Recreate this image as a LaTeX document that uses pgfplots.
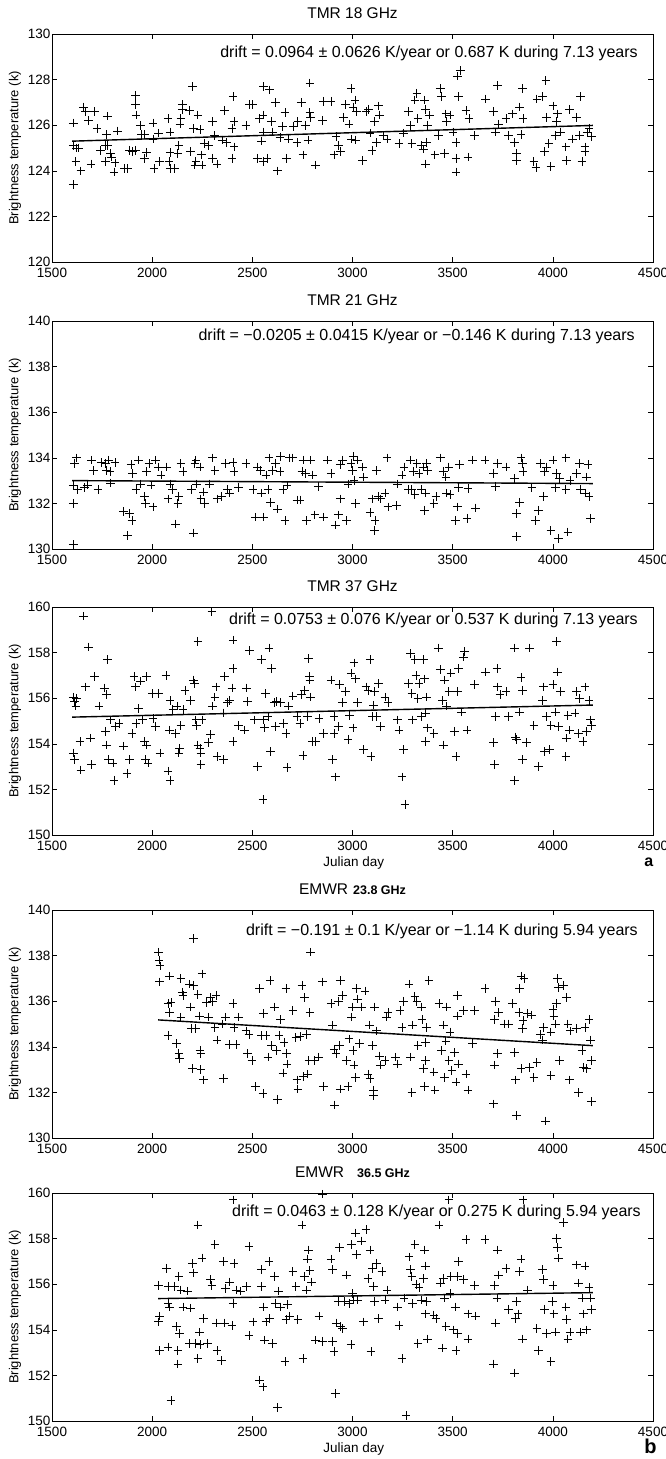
\documentclass[border=0pt]{standalone}
\usepackage{fontspec}
\setmainfont{Liberation Sans}
\usepackage{pgfplots}
\pgfplotsset{compat=1.18}
\pgfplotsset{
  panel/.style={
    scale only axis, width=601pt, height=228pt,
    xmin=1500, xmax=4500, xtick={1500,2000,...,4500},
    ytick distance=2,
    clip mode=individual,
    tick align=inside, xtick pos=both, ytick pos=both,
    major tick length=5pt,
    axis line style={line width=0.7pt},
    every tick/.style={black, line width=0.6pt},
    ticklabel style={font=\fontsize{13.5}{16}\selectfont},
    xticklabel style={inner sep=2pt, yshift=-4pt},
    yticklabel style={inner sep=1.5pt},
    /pgf/number format/assume math mode=true,
    /pgf/number format/1000 sep={},
    scaled ticks=false,
    every axis title shift=0pt,
    title style={font=\fontsize{15.5}{18}\selectfont, at={(axis description cs:0.5,1.092)}, anchor=center},
    ylabel={Brightness temperature (k)},
    ylabel style={font=\fontsize{13}{15}\selectfont, at={(axis description cs:-0.0616,0.5)}, anchor=center},
    xlabel style={font=\fontsize{13.5}{16}\selectfont, at={(axis description cs:0.502,-0.123)}, anchor=center},
  },
  pts/.style={only marks, mark=+, mark size=4.3pt, mark options={black, line width=0.75pt}},
  trend/.style={black, line width=1.4pt, no marks},
}
\tikzset{drift/.style={anchor=east, font=\fontsize{16}{18}\selectfont, inner sep=0pt}}
\begin{document}
\begin{tikzpicture}
\path[use as bounding box] (0,0) rectangle (666pt,-1459pt);

% ---------------- TMR 18 GHz
\begin{axis}[panel, at={(52pt,-262pt)}, anchor=south west, ymin=120, ymax=130,
  title={TMR 18 GHz}]
\addplot[pts] coordinates {(1606,123.4)(1606,126.1)(1606,125.1)(1623,125.0)(1634,125.0)(1619,124.4)(1644,124.0)(1657,126.8)(1666,126.6)(1683,126.2)(1695,124.3)(1712,126.6)(1725,125.85)(1742,124.9)(1768,125.1)(1768,124.4)(1776,126.4)(1776,125.1)(1772,125.6)(1793,124.75)(1797,124.6)(1810,123.95)(1814,124.35)(1827,125.75)(1861,124.1)(1878,124.1)(1888,124.9)(1903,124.85)(1916,127.3)(1916,124.9)(1918,126.9)(1920,126.45)(1942,126.0)(1946,125.6)(1963,124.55)(1963,125.6)(1973,124.8)(2005,125.4)(2005,126.1)(2010,124.1)(2033,125.65)(2037,124.4)(2080,126.3)(2084,124.4)(2090,124.1)(2090,124.8)(2090,125.7)(2111,124.1)(2133,125.1)(2128,124.75)(2139,126.05)(2150,126.9)(2150,126.7)(2143,126.3)(2186,126.65)(2192,124.85)(2201,127.7)(2207,125.85)(2213,124.25)(2218,124.4)(2228,126.45)(2239,125.8)(2245,124.7)(2249,124.25)(2260,125.2)(2281,125.1)(2302,126.15)(2302,124.55)(2311,125.55)(2324,124.3)(2349,125.35)(2362,126.65)(2370,125.25)(2398,125.85)(2398,124.55)(2404,127.25)(2409,125.05)(2409,126.15)(2468,126.0)(2485,126.9)(2500,126.9)(2525,124.55)(2536,126.3)(2545,125.3)(2557,127.7)(2557,125.7)(2557,124.4)(2553,126.45)(2574,124.55)(2587,127.55)(2595,126.15)(2600,125.7)(2617,127.0)(2625,124.0)(2638,125.45)(2651,125.95)(2663,126.55)(2672,124.55)(2680,125.4)(2706,125.95)(2723,125.25)(2727,126.15)(2744,127.0)(2753,124.7)(2765,126.0)(2778,125.35)(2787,127.85)(2787,126.55)(2791,126.35)(2816,124.25)(2850,126.2)(2854,127.05)(2893,127.05)(2908,124.7)(2918,125.5)(2929,125.1)(2939,124.85)(2956,126.35)(2965,126.9)(2982,126.05)(2993,127.6)(2995,125.4)(3003,126.8)(3012,127.1)(3016,125.35)(3020,126.6)(3050,124.45)(3067,126.6)(3080,126.7)(3088,125.65)(3097,124.9)(3109,126.15)(3120,125.25)(3130,126.85)(3135,126.45)(3152,125.55)(3173,125.4)(3232,125.2)(3254,125.65)(3279,126.6)(3290,126.0)(3296,125.2)(3311,127.1)(3321,127.4)(3326,126.3)(3343,125.1)(3353,124.95)(3360,127.1)(3364,126.7)(3364,124.3)(3368,125.25)(3375,126.0)(3385,126.45)(3411,124.7)(3428,125.55)(3438,127.6)(3445,127.25)(3460,124.75)(3466,126.5)(3470,126.15)(3487,126.45)(3502,125.7)(3517,125.25)(3517,123.95)(3517,124.55)(3523,128.15)(3530,127.25)(3538,128.4)(3566,126.65)(3576,124.6)(3581,126.3)(3608,125.55)(3665,127.15)(3704,126.6)(3714,125.7)(3725,127.75)(3729,126.05)(3767,126.3)(3778,125.55)(3799,126.5)(3810,125.25)(3820,124.75)(3820,124.45)(3835,126.8)(3842,125.6)(3848,127.6)(3852,126.3)(3905,124.4)(3916,124.15)(3920,127.15)(3948,127.25)(3958,124.85)(3965,127.95)(3969,126.35)(3980,125.2)(3990,124.2)(4001,126.85)(4012,125.55)(4018,126.15)(4022,126.5)(4039,125.7)(4065,125.05)(4069,124.45)(4082,126.7)(4097,125.4)(4118,126.35)(4133,125.55)(4139,127.25)(4145,124.4)(4160,125.05)(4160,124.85)(4171,125.7)(4181,125.85)(4192,125.5)};
\addplot[trend] coordinates {(1600,125.3)(4200,125.99)};
\node[drift] at (axis cs:4425,129.17) {drift = 0.0964 ± 0.0626 K/year or 0.687 K during 7.13 years};
\end{axis}

% ---------------- TMR 21 GHz
\begin{axis}[panel, at={(52pt,-549pt)}, anchor=south west, ymin=130, ymax=140,
  title={TMR 21 GHz}]
\addplot[pts] coordinates {(1606,130.2)(1606,132.0)(1606,132.8)(1612,133.75)(1623,134.0)(1627,132.6)(1661,132.7)(1676,132.8)(1697,133.9)(1708,133.45)(1729,132.6)(1746,133.8)(1768,133.75)(1772,133.45)(1782,133.9)(1789,133.4)(1793,132.9)(1814,133.8)(1857,131.65)(1878,130.6)(1888,131.55)(1899,131.25)(1895,133.7)(1903,133.3)(1920,132.6)(1931,133.9)(1942,132.85)(1963,132.3)(1967,132.0)(1973,133.4)(1984,133.75)(1995,132.8)(2005,131.85)(2016,133.9)(2031,133.6)(2044,133.25)(2073,133.6)(2080,132.2)(2090,132.85)(2101,132.6)(2116,131.1)(2128,132.0)(2133,132.3)(2143,133.75)(2154,133.4)(2196,132.6)(2207,130.7)(2213,133.75)(2218,133.9)(2222,132.85)(2239,133.6)(2243,132.2)(2256,132.5)(2260,132.0)(2285,132.85)(2302,134.0)(2313,133.45)(2324,132.2)(2345,132.3)(2366,133.75)(2377,132.6)(2387,132.45)(2404,133.8)(2409,133.4)(2430,132.7)(2468,133.75)(2504,132.6)(2515,131.4)(2525,133.6)(2540,133.45)(2547,132.45)(2557,131.4)(2568,133.25)(2578,132.6)(2583,134.0)(2591,132.05)(2600,133.45)(2617,133.75)(2625,131.75)(2638,133.4)(2642,134.05)(2653,132.6)(2663,131.25)(2674,132.8)(2685,134.0)(2702,134.0)(2723,132.15)(2738,132.15)(2748,133.4)(2753,133.9)(2765,133.3)(2770,131.25)(2791,133.9)(2801,133.25)(2812,131.5)(2829,132.75)(2854,131.4)(2876,133.9)(2893,133.3)(2914,131.05)(2929,131.5)(2939,132.2)(2939,133.7)(2950,133.9)(2971,131.25)(2978,132.85)(2993,133.75)(2999,133.45)(3003,134.05)(3007,133.0)(3014,132.0)(3024,133.9)(3050,133.6)(3056,133.15)(3088,131.6)(3099,132.2)(3109,130.8)(3113,131.25)(3120,133.45)(3130,132.3)(3141,132.2)(3162,132.45)(3173,134.0)(3177,131.85)(3220,131.9)(3226,132.85)(3247,133.25)(3258,133.6)(3279,132.6)(3290,133.9)(3296,132.6)(3305,133.4)(3311,132.4)(3321,133.75)(3332,133.3)(3343,132.6)(3353,133.6)(3360,131.7)(3364,132.45)(3368,133.75)(3375,133.45)(3406,132.0)(3417,132.3)(3438,134.0)(3453,133.4)(3466,133.15)(3470,132.45)(3481,133.6)(3487,132.4)(3513,131.25)(3523,131.85)(3530,132.7)(3534,133.7)(3572,131.35)(3576,132.65)(3598,133.9)(3615,131.8)(3661,133.9)(3704,133.3)(3714,132.75)(3725,133.75)(3767,133.6)(3810,133.1)(3820,131.55)(3820,130.55)(3835,132.05)(3842,134.0)(3848,133.75)(3852,133.4)(3895,132.7)(3912,131.25)(3927,131.7)(3937,133.75)(3954,132.3)(3958,133.4)(3969,133.6)(3990,130.8)(4001,133.9)(4012,132.7)(4018,133.3)(4027,130.45)(4033,133.1)(4065,134.0)(4065,132.6)(4075,130.75)(4086,133.0)(4118,133.3)(4133,133.75)(4139,132.6)(4160,132.45)(4167,133.15)(4175,133.7)(4181,132.3)(4188,131.35)};
\addplot[trend] coordinates {(1600,133.0)(4200,132.87)};
\node[drift] at (axis cs:4410,139.34) {drift = −0.0205 ± 0.0415 K/year or −0.146 K during 7.13 years};
\end{axis}

% ---------------- TMR 37 GHz
\begin{axis}[panel, at={(52pt,-835pt)}, anchor=south west, ymin=150, ymax=160,
  title={TMR 37 GHz}, xlabel={Julian day}]
\addplot[pts] coordinates {(1606,153.6)(1612,153.3)(1606,156.05)(1612,155.85)(1619,155.65)(1623,156.0)(1644,152.85)(1640,154.1)(1657,159.6)(1666,156.5)(1683,158.25)(1691,154.25)(1697,153.1)(1712,156.95)(1734,155.65)(1761,156.45)(1768,154.55)(1776,157.7)(1772,156.15)(1772,153.95)(1782,153.3)(1793,155.05)(1804,153.15)(1810,152.4)(1818,154.75)(1835,154.9)(1857,153.9)(1874,152.7)(1888,153.3)(1899,154.45)(1910,156.95)(1916,156.5)(1920,154.9)(1931,155.55)(1942,156.75)(1952,155.05)(1963,154.1)(1967,153.3)(1973,156.95)(1973,153.95)(1980,153.15)(2001,156.2)(2005,155.1)(2016,154.75)(2031,156.2)(2039,153.6)(2069,157.0)(2080,152.8)(2090,152.4)(2086,154.6)(2090,155.9)(2103,155.5)(2116,154.45)(2124,155.65)(2133,153.6)(2137,153.8)(2143,154.8)(2154,155.5)(2164,156.35)(2192,155.9)(2207,156.8)(2211,156.65)(2218,155.05)(2222,154.8)(2228,153.95)(2228,158.5)(2239,153.8)(2243,153.6)(2243,153.1)(2249,155.05)(2281,154.05)(2292,154.4)(2298,159.8)(2302,155.65)(2313,156.05)(2319,156.5)(2324,153.45)(2356,153.3)(2356,155.35)(2362,156.95)(2377,155.8)(2387,155.9)(2398,156.45)(2404,157.3)(2404,158.55)(2404,154.1)(2430,154.8)(2462,154.6)(2472,156.45)(2477,155.85)(2485,158.1)(2510,155.05)(2525,153.0)(2547,157.7)(2553,151.55)(2557,155.05)(2562,154.7)(2566,156.2)(2578,155.2)(2583,158.2)(2591,153.65)(2595,157.3)(2610,155.8)(2617,154.75)(2621,155.85)(2642,155.8)(2655,154.9)(2668,154.45)(2674,152.95)(2680,155.65)(2702,156.1)(2723,155.2)(2738,154.9)(2744,156.15)(2753,153.5)(2761,156.35)(2774,155.2)(2780,157.75)(2784,156.95)(2787,156.8)(2791,156.05)(2801,154.1)(2816,154.1)(2833,155.1)(2854,154.45)(2893,156.8)(2901,153.3)(2908,154.45)(2908,155.2)(2914,152.55)(2929,154.75)(2935,156.6)(2950,155.8)(2965,156.3)(2978,154.2)(2986,155.25)(2993,157.1)(3003,154.7)(3007,157.55)(3014,156.85)(3024,155.8)(3056,153.75)(3067,156.5)(3078,156.35)(3088,157.7)(3092,153.45)(3099,155.2)(3105,155.7)(3109,156.3)(3120,155.2)(3130,156.65)(3141,154.75)(3162,156.05)(3177,155.8)(3226,155.05)(3232,154.6)(3247,152.55)(3254,153.75)(3262,151.35)(3279,156.65)(3290,157.95)(3296,156.2)(3300,155.05)(3311,157.7)(3317,157.0)(3326,156.0)(3332,156.65)(3343,155.2)(3353,157.7)(3360,156.85)(3364,154.1)(3364,155.35)(3368,156.05)(3375,154.7)(3406,154.45)(3428,158.2)(3438,157.25)(3449,155.9)(3453,153.95)(3460,156.8)(3470,155.65)(3481,156.3)(3491,157.1)(3508,154.55)(3517,153.45)(3523,156.3)(3530,157.3)(3545,155.4)(3555,157.8)(3559,158.05)(3572,154.6)(3608,156.6)(3665,157.15)(3704,154.05)(3708,153.1)(3714,155.2)(3721,157.3)(3725,156.5)(3736,156.15)(3767,156.3)(3778,155.2)(3810,158.2)(3810,152.4)(3814,154.3)(3820,154.2)(3835,155.4)(3842,156.9)(3848,156.35)(3848,153.3)(3869,154.05)(3884,158.2)(3905,154.8)(3927,153.0)(3948,155.9)(3954,156.5)(3958,153.65)(3969,155.2)(3984,153.75)(3990,154.8)(4001,156.6)(4012,155.4)(4018,158.5)(4022,157.15)(4029,154.75)(4039,156.3)(4065,153.45)(4069,154.25)(4075,155.25)(4082,154.6)(4111,155.35)(4118,156.3)(4128,154.45)(4133,156.0)(4150,154.1)(4160,156.5)(4167,154.55)(4181,155.9)(4188,155.05)(4192,154.8)};
\addplot[trend] coordinates {(1600,155.17)(4200,155.7)};
\node[drift] at (axis cs:4425,159.43) {drift = 0.0753 ± 0.076 K/year or 0.537 K during 7.13 years};
\node[font=\fontsize{16}{18}\selectfont\bfseries] at (axis description cs:0.993,-0.118) {a};
\end{axis}

% ---------------- EMWR 23.8 GHz
\begin{axis}[panel, at={(52pt,-1138pt)}, anchor=south west, ymin=130, ymax=140,
  title={EMWR\hspace{5pt}{\bfseries\fontsize{12.5}{14}\selectfont 23.8 GHz}}]
\addplot[pts] coordinates {(2031,138.15)(2035,137.8)(2039,137.55)(2037,136.85)(2080,134.5)(2086,137.1)(2080,135.9)(2086,135.5)(2094,135.95)(2122,134.15)(2133,133.7)(2137,133.5)(2143,137.0)(2150,136.4)(2154,136.25)(2143,135.3)(2186,136.75)(2192,135.75)(2196,134.8)(2201,133.05)(2207,138.75)(2207,136.7)(2218,134.8)(2228,136.3)(2235,135.35)(2239,133.85)(2243,133.7)(2243,133.0)(2249,137.2)(2256,132.55)(2271,135.95)(2281,135.3)(2292,136.15)(2302,136.0)(2313,134.85)(2319,136.25)(2324,134.3)(2349,135.0)(2356,132.6)(2366,135.3)(2387,134.1)(2404,135.9)(2409,134.85)(2419,134.1)(2430,135.3)(2468,134.7)(2477,133.7)(2483,134.55)(2498,133.4)(2515,132.25)(2536,136.55)(2547,134.5)(2553,131.95)(2557,135.45)(2568,134.5)(2578,133.55)(2589,136.9)(2595,134.05)(2610,135.75)(2621,133.85)(2625,131.7)(2634,134.5)(2642,135.2)(2653,132.85)(2659,134.2)(2668,136.55)(2672,133.7)(2674,133.25)(2702,135.6)(2717,134.4)(2723,132.55)(2727,132.15)(2738,134.45)(2748,136.7)(2755,132.7)(2761,136.15)(2770,134.55)(2774,132.8)(2782,133.4)(2787,135.5)(2791,138.15)(2812,133.4)(2829,133.55)(2850,136.85)(2854,132.25)(2893,135.9)(2901,134.95)(2908,133.9)(2910,131.45)(2918,133.7)(2929,136.0)(2935,134.05)(2939,132.15)(2939,136.9)(2950,136.25)(2971,133.4)(2978,132.25)(2982,134.35)(2995,135.3)(2999,135.75)(3003,133.85)(3007,133.2)(3014,132.65)(3020,136.55)(3024,136.1)(3035,134.15)(3046,135.75)(3063,136.45)(3078,132.8)(3084,134.95)(3088,132.6)(3099,134.05)(3105,132.1)(3105,131.85)(3109,135.75)(3120,134.7)(3135,133.6)(3141,133.2)(3162,133.4)(3169,135.3)(3177,135.5)(3215,133.55)(3226,133.25)(3237,135.6)(3247,134.85)(3254,136.0)(3283,136.75)(3290,133.55)(3296,132.0)(3300,134.95)(3311,136.2)(3321,136.0)(3326,134.05)(3343,135.75)(3347,135.2)(3353,133.05)(3360,132.25)(3364,134.2)(3364,133.4)(3368,134.85)(3381,136.9)(3406,132.9)(3411,132.1)(3432,135.9)(3445,133.85)(3453,134.95)(3460,132.65)(3466,134.25)(3470,135.75)(3481,133.4)(3487,134.65)(3496,132.95)(3508,133.75)(3517,132.45)(3523,136.25)(3523,135.35)(3530,133.25)(3555,135.6)(3566,132.8)(3576,132.1)(3598,134.15)(3608,135.6)(3661,136.55)(3704,131.5)(3708,135.2)(3708,133.2)(3714,136.0)(3725,133.7)(3729,135.5)(3757,135.0)(3778,135.0)(3799,135.9)(3810,133.75)(3814,132.55)(3820,131.0)(3831,135.5)(3835,136.55)(3842,133.05)(3842,137.1)(3848,134.8)(3852,135.15)(3856,137.0)(3873,135.45)(3884,133.1)(3895,135.4)(3905,132.65)(3920,133.3)(3937,134.55)(3948,134.3)(3954,134.85)(3963,130.75)(3990,132.75)(3990,134.65)(4001,135.65)(4005,135.35)(4012,135.0)(4018,135.9)(4022,137.0)(4027,136.6)(4033,133.4)(4054,136.7)(4069,136.15)(4075,135.0)(4082,132.55)(4086,134.7)(4118,134.8)(4128,132.0)(4145,133.85)(4154,133.1)(4160,134.85)(4167,133.05)(4181,135.2)(4188,134.3)(4192,133.4)(4192,131.6)};
\addplot[trend] coordinates {(2030,135.18)(4200,134.05)};
\node[drift] at (axis cs:4425,139.08) {drift = −0.191 ± 0.1 K/year or −1.14 K during 5.94 years};
\end{axis}

% ---------------- EMWR 36.5 GHz
\begin{axis}[panel, at={(52pt,-1421pt)}, anchor=south west, ymin=150, ymax=160,
  title={EMWR\hspace{13pt}{\bfseries\fontsize{12.5}{14}\selectfont 36.5 GHz}}, xlabel={Julian day}]
\addplot[pts] coordinates {(2031,155.95)(2031,154.35)(2037,154.6)(2037,153.1)(2073,156.7)(2080,155.9)(2080,155.15)(2086,155.0)(2080,153.25)(2094,150.9)(2111,155.9)(2122,154.15)(2128,153.1)(2128,152.5)(2133,156.35)(2137,153.85)(2143,155.75)(2154,155.0)(2175,155.7)(2186,153.4)(2192,154.95)(2201,156.9)(2207,156.5)(2218,153.4)(2228,158.6)(2228,152.75)(2235,153.9)(2239,153.35)(2249,157.15)(2256,154.5)(2277,153.4)(2292,156.2)(2298,155.95)(2313,157.75)(2319,154.3)(2324,153.1)(2345,152.65)(2356,157.0)(2362,154.3)(2366,155.8)(2387,156.1)(2398,154.2)(2404,159.7)(2404,155.15)(2409,156.9)(2419,155.75)(2440,155.7)(2472,155.9)(2483,157.65)(2483,153.75)(2504,154.35)(2536,151.8)(2547,156.65)(2547,155.9)(2553,151.5)(2557,155.0)(2562,153.55)(2568,154.35)(2583,157.0)(2587,154.5)(2600,153.4)(2610,156.35)(2617,155.15)(2625,150.6)(2632,155.7)(2642,155.0)(2663,152.6)(2668,154.45)(2676,155.1)(2685,154.6)(2702,156.55)(2717,155.9)(2727,154.45)(2748,158.6)(2753,152.75)(2759,156.35)(2770,155.75)(2774,157.1)(2780,157.5)(2787,156.6)(2795,156.1)(2816,153.55)(2833,154.6)(2850,153.5)(2850,159.95)(2893,157.1)(2901,156.65)(2901,153.5)(2908,153.05)(2914,151.2)(2918,154.3)(2929,155.25)(2935,157.6)(2939,154.15)(2950,154.05)(2961,155.25)(2971,156.4)(2982,155.15)(2993,153.35)(2995,157.75)(2999,155.6)(3003,155.3)(3014,158.25)(3020,157.3)(3024,155.3)(3046,157.9)(3056,154.35)(3067,158.4)(3078,156.25)(3088,157.5)(3092,153.05)(3099,156.7)(3105,155.9)(3109,155.25)(3120,156.9)(3130,154.5)(3147,156.55)(3162,155.3)(3173,155.75)(3226,155.0)(3232,154.2)(3247,152.75)(3258,155.4)(3268,150.25)(3283,157.2)(3290,156.65)(3296,156.35)(3300,155.15)(3311,157.75)(3317,156.0)(3326,153.4)(3332,155.85)(3343,155.3)(3353,156.25)(3360,157.5)(3364,156.8)(3364,154.7)(3368,155.25)(3375,153.6)(3406,154.65)(3417,154.5)(3432,158.6)(3438,156.05)(3449,153.2)(3453,156.25)(3460,155.4)(3466,154.15)(3481,159.7)(3487,155.6)(3491,156.35)(3502,154.0)(3513,155.0)(3517,153.1)(3523,153.85)(3523,156.35)(3530,157.0)(3555,156.2)(3566,157.95)(3576,153.6)(3576,154.7)(3608,155.95)(3615,154.6)(3661,157.95)(3704,152.5)(3708,155.95)(3714,154.3)(3721,155.4)(3725,157.5)(3729,156.4)(3767,156.7)(3778,154.9)(3810,152.1)(3814,154.5)(3820,155.25)(3827,154.7)(3835,156.55)(3842,157.1)(3848,153.6)(3852,159.7)(3873,155.75)(3920,154.05)(3927,153.1)(3948,156.65)(3954,156.2)(3958,154.9)(3969,153.85)(3990,152.6)(3997,155.25)(4001,155.95)(4005,154.7)(4012,153.9)(4018,158.0)(4022,157.6)(4027,157.15)(4054,158.7)(4065,155.0)(4069,154.45)(4075,153.6)(4086,153.9)(4118,156.85)(4128,156.05)(4139,153.9)(4145,155.4)(4154,154.7)(4160,156.8)(4167,154.0)(4181,155.85)(4188,155.4)(4192,154.9)};
\addplot[trend] coordinates {(2030,155.37)(4200,155.63)};
\node[drift] at (axis cs:4440,159.17) {drift = 0.0463 ± 0.128 K/year or 0.275 K during 5.94 years};
\node[font=\fontsize{20}{22}\selectfont\bfseries] at (axis description cs:0.996,-0.113) {b};
\end{axis}
\end{tikzpicture}
\end{document}
